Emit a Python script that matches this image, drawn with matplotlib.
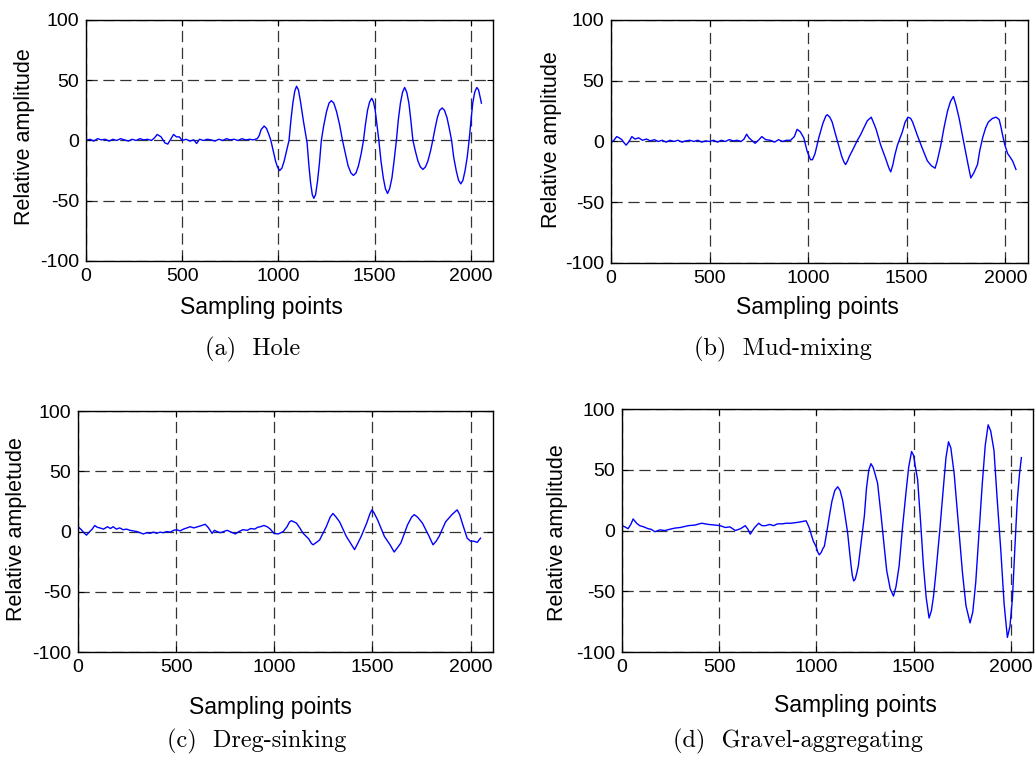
import matplotlib
matplotlib.use('Agg')
import matplotlib.pyplot as plt

plt.rcParams['font.family'] = ['Liberation Sans', 'DejaVu Sans']
plt.rcParams['axes.unicode_minus'] = False

# ---- data (sample index, relative amplitude) ----
hole_x = [0, 20, 40, 60, 80, 100, 120, 140, 160, 180, 200, 220, 240, 260, 280, 300, 320, 340, 355,
          370, 390, 410, 425, 440, 455, 470, 485, 500, 520, 540, 560, 575, 590, 610, 630, 650, 670,
          690, 710, 730, 750, 770, 790, 810, 830, 850, 870, 890, 900, 910, 926, 938, 948, 960,
          975, 985, 995, 1006, 1018, 1030, 1042, 1055, 1065, 1075, 1085, 1094, 1104, 1115, 1130,
          1149, 1158, 1167, 1176, 1184, 1193, 1203, 1213, 1223, 1235, 1250, 1263, 1275, 1288, 1302,
          1318, 1333, 1348, 1362, 1377, 1390, 1403, 1416, 1430, 1442, 1452, 1463, 1474, 1485, 1494,
          1503, 1512, 1522, 1533, 1545, 1556, 1567, 1578, 1590, 1601, 1613, 1623, 1634, 1645, 1656,
          1667, 1678, 1688, 1699, 1712, 1725, 1738, 1751, 1764, 1777, 1790, 1802, 1814, 1826, 1838,
          1851, 1863, 1876, 1888, 1900, 1911, 1924, 1936, 1948, 1959, 1970, 1981, 1991, 2001, 2010,
          2020, 2031, 2040, 2048, 2055]
hole_y = [0, 1, -0.5, 1.5, 0.5, 1, -0.5, 1, 0, 1.5, 0.5, -0.5, 1, 0, 1.5, 0.5, 1, 0, 2,
          5, 3, -2, -3, 1, 5, 3, 3, 0, 1, -0.5, 0.5, -2.5, 1, 0, 1, 0.5, -0.5,
          1, 0, 1.5, 0.5, 1, 0, 1.5, 0.5, 1, 0.5, 1.5, 4, 9, 12, 10, 6, 0.5,
          -10, -17, -22, -25, -23, -17, -9, 0, 17, 31, 41, 45, 42, 32, 16,
          -2, -20, -35, -45, -48, -45, -34, -19, 0, 12, 24, 31, 33, 31, 24,
          13, 0, -11, -21, -27, -29, -27, -21, -11, 0, 13, 25, 32, 35, 32,
          25, 13, 0, -17, -31, -40, -44, -40, -31, -17, 0, 17, 31, 40, 44,
          40, 31, 17, 0, -9, -17, -22, -24, -22, -17, -9, 0, 10, 19, 25,
          27, 25, 19, 10, 0, -14, -25, -33, -36, -33, -25, -14, 0, 17, 31,
          40, 44, 42, 36, 31]

mud_x = [0, 15, 29, 42, 55, 66, 77, 92, 106, 122, 140, 160, 180, 200, 220, 240, 260, 280, 300,
         320, 340, 360, 380, 400, 420, 440, 460, 480, 500, 520, 540, 560, 580, 600, 620, 640, 660,
         675, 688, 700, 714, 731, 748, 765, 785, 808, 830, 850, 870, 890, 911, 930, 944, 960, 978,
         995, 1012, 1022, 1035, 1054, 1075, 1090, 1097, 1110, 1122, 1137, 1151, 1170, 1182, 1190,
         1200, 1210, 1232, 1250, 1266, 1282, 1300, 1320, 1333, 1345, 1368, 1393, 1410, 1419, 1430,
         1440, 1453, 1478, 1492, 1507, 1520, 1530, 1554, 1580, 1605, 1625, 1644, 1655, 1673, 1690,
         1707, 1722, 1737, 1750, 1766, 1792, 1810, 1825, 1840, 1859, 1870, 1885, 1900, 1914, 1935,
         1953, 1962, 1969, 1978, 1986, 1998, 2012, 2025, 2037, 2054]
mud_y = [-1, 1, 4, 3, 1.5, -1, -3, 0, 4, 2, 3, 1, 2, 0.5, 1.5, 0, 1, -0.5, 1,
         0, 1, -0.5, 0.5, 1, 0, 1, -0.5, 0.5, 0, 1, -0.5, 1, 0, 1.5, 0.5, 1, 0,
         2, 6, 3, 1, -1.5, 1, 4, 1.5, 1, -0.5, 1.5, 0, 1, 1, 4, 10, 8, 3,
         -8, -15, -15, -10, 3, 15, 21, 22, 20, 16, 7, -1, -12, -17, -19,
         -16, -12, -5, 1, 5.5, 11, 17, 20, 15, 10, -3, -14, -22, -25, -19,
         -11, -3, 8, 16, 20, 19, 16, 5, -6, -16, -20, -22, -16, -3, 12,
         25, 33, 37, 30, 19, -3, -18, -30, -26, -19, -8, 3, 11, 16, 19,
         20, 19, 18, 12, 5.5, -3, -10, -13, -16, -23]

dreg_x = [0, 17, 30, 43, 60, 72, 85, 98, 111, 130, 150, 165, 179, 195, 212, 230, 247, 265, 282,
          299, 316, 333, 350, 367, 384, 401, 418, 435, 452, 470, 487, 503, 520, 537, 555, 572, 590,
          610, 630, 648, 665, 683, 695, 708, 725, 742, 760, 780, 802, 820, 840, 862, 880, 900, 915,
          930, 947, 964, 980, 998, 1020, 1046, 1065, 1078, 1088, 1100, 1113, 1130, 1147, 1175, 1190,
          1198, 1215, 1231, 1265, 1285, 1299, 1315, 1333, 1367, 1390, 1409, 1425, 1443, 1471, 1488,
          1498, 1510, 1527, 1561, 1590, 1611, 1625, 1645, 1679, 1700, 1713, 1730, 1755, 1789, 1809,
          1825, 1840, 1873, 1905, 1932, 1945, 1958, 1983, 2000, 2017, 2034, 2051]
dreg_y = [4, 1.5, -1, -3, 0, 2, 5, 3.5, 3, 2, 4, 2.5, 4, 2, 3, 1.5, 2, 1, 0.5,
          0, -1, -2, -1, -1.5, -0.5, -1.5, -0.5, -1, 0, -0.5, 1, 1.5, 0.5, 2, 3, 4, 3,
          4, 5, 6, 3, -1.5, 1, 0, -1, 0, 1, -0.5, -2, 0, 1.5, 1, 2.5, 2, 3.5,
          4, 5, 4, 2, -1.5, -2, 0, 4, 8, 9, 8, 7, 3, -1.5, -6, -10,
          -11, -9, -7, 4, 12, 15, 12, 8, -4, -10, -15, -10, -4, 7, 15,
          18, 15, 9.5, -4, -11, -17, -14, -9.5, 5.5, 12, 14, 12, 7, -4, -11,
          -8, -4, 8, 14, 18, 14, 7, -5.5, -8, -8, -9, -5.5]

gravel_x = [0, 15, 31, 45, 57, 75, 91, 112, 134, 150, 169, 195, 221, 245, 272, 300, 341, 375, 410,
            445, 479, 505, 531, 555, 583, 610, 634, 648, 660, 680, 703, 720, 738, 760, 780, 800, 824,
            845, 870, 893, 915, 930, 947, 956, 964, 975, 985, 998, 1008, 1015, 1025, 1033, 1041,
            1054, 1067, 1080, 1095, 1110, 1122, 1135, 1148, 1161, 1170, 1178, 1185, 1192, 1200, 1208,
            1216, 1231, 1247, 1258, 1270, 1281, 1292, 1303, 1315, 1332, 1349, 1362, 1380, 1397, 1410,
            1426, 1443, 1461, 1475, 1490, 1500, 1510, 1521, 1536, 1551, 1565, 1580, 1592, 1603, 1615,
            1635, 1654, 1667, 1680, 1692, 1709, 1730, 1752, 1770, 1791, 1805, 1820, 1837, 1854, 1869,
            1884, 1897, 1914, 1930, 1949, 1966, 1983, 1996, 2009, 2021, 2034, 2045, 2055]
gravel_y = [4, 3, 1.5, 5, 9.5, 6, 4, 3, 1.5, 1, -1, 0.5, 0, 1, 2, 2.5, 4, 4.5, 6,
            5, 4.5, 4, 2.5, 3, 0, 1.5, 4, 1, -3, 2, 6, 4, 4, 5, 4, 5.5, 5.5,
            6, 6, 6.5, 7, 7.5, 8, 5, 2, -4, -9, -13, -18, -20, -18, -15, -13,
            -1, 12, 24, 33, 36, 33, 25, 12, -2, -16, -28, -37, -41.5, -40, -35,
            -29, -9, 12, 35, 50, 55, 52, 46, 39, 14, -13, -33, -48, -54, -46,
            -29, 2, 31, 52, 65, 62, 52, 42, 8, -29, -55, -72, -66, -54, -35,
            0, 36, 60, 73, 68, 47, 7, -35, -62, -76, -67, -43, -2, 39, 70,
            87, 82, 66, 27, -16, -60, -88, -79, -56, -16, 25, 46, 60]

series = [hole_x, hole_y, mud_x, mud_y, dreg_x, dreg_y, gravel_x, gravel_y]
ylabels = ['Relative amplitude', 'Relative amplitude', 'Relative ampletude', 'Relative amplitude']
captions = ['(a)  Hole', '(b)  Mud-mixing', '(c)  Dreg-sinking', '(d)  Gravel-aggregating']
x_ticks = [0, 500, 1000, 1500, 2000]
y_ticks = [-100, -50, 0, 50, 100]

boxes = [[0.0831, 0.6615, 0.3932, 0.3126],
         [0.5903, 0.6589, 0.4029, 0.3152],
         [0.0754, 0.1543, 0.4010, 0.3126],
         [0.6010, 0.1543, 0.3971, 0.3152]]
xlab_pos = [(0.43, -0.195), (0.494, -0.185), (0.463, -0.232), (0.569, -0.218)]
ylab_pos = [(-0.15, 0.515), (-0.142, 0.506), (-0.148, 0.51), (-0.156, 0.49)]
cap_pos = [(253, 349), (783, 349), (257, 741), (798, 741)]

fig = plt.figure(figsize=(10.35, 7.71), dpi=100)

for i in range(4):
    ax = fig.add_axes(boxes[i])
    xs = series[2 * i]
    ys = series[2 * i + 1]
    ax.plot(xs, ys, color='blue', lw=1.0)
    ax.set_xlim(0, 2115)
    ax.set_ylim(-100, 100)
    ax.set_xticks(x_ticks)
    ax.set_yticks(y_ticks)
    ax.tick_params(direction='in', top=True, right=True, length=4, width=0.8,
                   labelsize=14, pad=5, colors='black')
    ax.grid(True, color='0.2', linestyle=(0, (9, 4.5)), lw=0.9)
    for s in ax.spines.values():
        s.set_linewidth(1.0)

    ax.set_xlabel('Sampling points', fontsize=16.5)
    ax.xaxis.label.set_va('center')
    ax.xaxis.set_label_coords(xlab_pos[i][0], xlab_pos[i][1])
    ax.set_ylabel(ylabels[i], fontsize=15.5)
    ax.yaxis.label.set_va('center')
    ax.yaxis.set_label_coords(ylab_pos[i][0], ylab_pos[i][1])

    fig.text(cap_pos[i][0] / 1035, 1 - cap_pos[i][1] / 771, captions[i],
             family=['cmr10', 'DejaVu Serif'], fontsize=17.5, ha='center', va='center')

fig.savefig('out.png', dpi=100)
